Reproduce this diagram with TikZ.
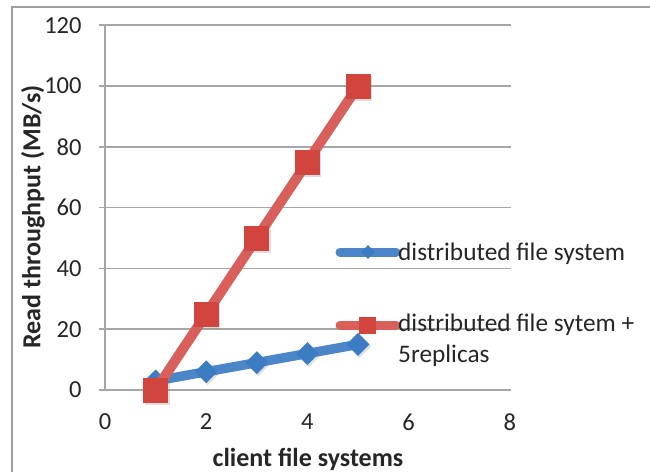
\documentclass[tikz,border=0pt]{standalone}
\usepackage{fontspec}
\setmainfont{Carlito}
\usetikzlibrary{shapes.geometric,shadows}

\definecolor{gridgray}{HTML}{A6A6A6}
\definecolor{framegray}{HTML}{A0A0A0}
\definecolor{serblue}{HTML}{4A86C8}
\definecolor{markblue}{HTML}{3C7CC3}
\definecolor{serred}{HTML}{D9605A}
\definecolor{markred}{HTML}{D1453E}
\definecolor{txt}{HTML}{262626}

\tikzset{
  gridline/.style={draw=gridgray, line width=1.5pt},
  ticklbl/.style={text=txt, font=\fontsize{24.5}{28}\selectfont, inner sep=0pt},
  axistitle/.style={text=txt, font=\fontsize{26}{30}\selectfont\bfseries, inner sep=0pt},
  legendlbl/.style={text=txt, font=\fontsize{25.3}{31}\selectfont, inner sep=0pt, align=left},
  blueline/.style={draw=serblue, line width=9.5pt},
  redline/.style={draw=serred, line width=10pt},
  bluemark/.style={diamond, aspect=1, fill=markblue, inner sep=0pt, minimum size=23pt,
    drop shadow={shadow xshift=1.5pt, shadow yshift=-2pt, opacity=0.25}},
  redmark/.style={rectangle, fill=markred, inner sep=0pt, minimum size=25pt,
    drop shadow={shadow xshift=1.5pt, shadow yshift=-2pt, opacity=0.25}},
  legdiamond/.style={diamond, aspect=1, fill=markblue, inner sep=0pt, minimum size=14pt},
  legsquare/.style={rectangle, fill=markred, inner sep=0pt, minimum size=17pt},
}

\begin{document}
\begin{tikzpicture}[x=1pt, y=-1pt]
  \useasboundingbox (0,0) rectangle (650,472);
  \fill[white] (0,0) rectangle (650,472);

  % chart frame (top and left edges)
  \draw[framegray, line width=1.5pt] (12,472) -- (12,7) -- (650,7);

  % plot area: origin at the axes crossing, data units
  \begin{scope}[shift={(105,390)}, x=50.6pt, y=3.04pt]
    \foreach \v in {0,20,...,120} {
      \draw[gridline] (-0.12,\v) -- (8.02,\v);
      \node[ticklbl, anchor=east] (yl\v) at (-0.46,\v) {\v};
    }
    \draw[gridline] (0,0) -- (0,120);
    \foreach \v in {0,2,...,8}
      \node[ticklbl] (xl\v) at (\v,-10.5) {\v};

    % series 1: distributed file system
    \foreach \i/\v in {1/3,2/6,3/9,4/12,5/15}
      \coordinate (b\i) at (\i,\v);
    \draw[blueline] (b1) -- (b2) -- (b3) -- (b4) -- (b5);
    \foreach \i in {1,...,5}
      \node[bluemark] (bm\i) at (b\i) {};

    % series 2: distributed file system + 5 replicas
    \foreach \i/\v in {1/0,2/25,3/50,4/75,5/100}
      \coordinate (r\i) at (\i,\v);
    \draw[redline] (r1) -- (r2) -- (r3) -- (r4) -- (r5);
    \foreach \i in {1,...,5}
      \node[redmark] (rm\i) at (r\i) {};
  \end{scope}

  % axis titles
  \node[axistitle] (xtitle) at (308,459) {client file systems};
  \node[axistitle, rotate=90] (ytitle) at (33,217) {Read throughput (MB/s)};

  % legend
  \coordinate (lb1) at (340,252);
  \coordinate (lb2) at (396,252);
  \draw[serblue, line width=9pt, line cap=round] (lb1) -- (lb2);
  \node[legdiamond] (lbm) at (368,252) {};
  \node[legendlbl, anchor=base west] (lbt) at (398,260) {distributed file system};

  \coordinate (lr1) at (340,325);
  \coordinate (lr2) at (396,325);
  \draw[serred, line width=9pt, line cap=round] (lr1) -- (lr2);
  \node[legsquare] (lrm) at (367,325) {};
  \node[legendlbl, anchor=base west] (lrt) at (398,331) {distributed file sytem +};
  \node[legendlbl, anchor=base west] (lrt2) at (398,362) {5replicas};
\end{tikzpicture}
\end{document}
